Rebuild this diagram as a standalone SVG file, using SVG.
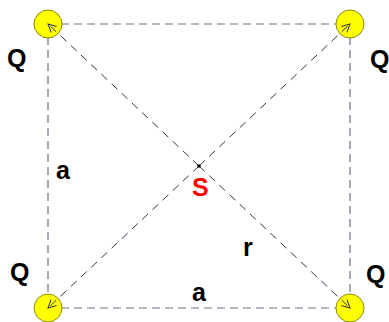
<svg xmlns="http://www.w3.org/2000/svg" width="389" height="322" viewBox="0 0 389 322">
<style>
.edge{stroke:#70708a;stroke-width:1.2;stroke-dasharray:8,5;fill:none}
.diag{stroke:#33334f;stroke-width:1;stroke-dasharray:8,6;fill:none;marker-end:url(#arr)}
.q{fill:#ffff00;stroke:#8a8a20;stroke-width:1}
.lbl{font-family:"Liberation Sans",Arial,sans-serif;font-weight:bold;font-size:25px;fill:#000}
.red{fill:#ff0000}
</style>
<defs>
<marker id="arr" markerWidth="10" markerHeight="10" refX="9" refY="5" orient="auto" markerUnits="userSpaceOnUse">
<path d="M1,1 L9,5 L1,9" fill="none" stroke="#33334f" stroke-width="1"/>
</marker>
</defs>
<g id="edges">
<line class="edge" x1="48" y1="24" x2="350" y2="24"/>
<line class="edge" x1="48" y1="308" x2="350" y2="308"/>
<line class="edge" x1="48" y1="24" x2="48" y2="308"/>
<line class="edge" x1="350" y1="24" x2="350" y2="308"/>
</g>
<g id="q1"><circle class="q" cx="48" cy="24" r="14"/></g>
<g id="q2"><circle class="q" cx="350" cy="24" r="14"/></g>
<g id="q3"><circle class="q" cx="48" cy="308" r="14"/></g>
<g id="q4"><circle class="q" cx="350" cy="308" r="14"/></g>
<g id="connectors">
<line class="diag" x1="199" y1="166" x2="48" y2="24"/>
<line class="diag" x1="199" y1="166" x2="350" y2="24"/>
<line class="diag" x1="199" y1="166" x2="48" y2="308"/>
<line class="diag" x1="199" y1="166" x2="350" y2="308"/>
</g>
<g id="S"><circle cx="199" cy="166" r="1.8" fill="#000"/></g>
<g id="labels">
<text class="lbl" x="7" y="67">Q</text>
<text class="lbl" x="370" y="68">Q</text>
<text class="lbl" x="10" y="281">Q</text>
<text class="lbl" x="366" y="283">Q</text>
<text class="lbl" x="56" y="179">a</text>
<text class="lbl" x="192" y="301">a</text>
<text class="lbl" x="243" y="256">r</text>
<text class="lbl red" x="192" y="196">S</text>
</g>
</svg>
